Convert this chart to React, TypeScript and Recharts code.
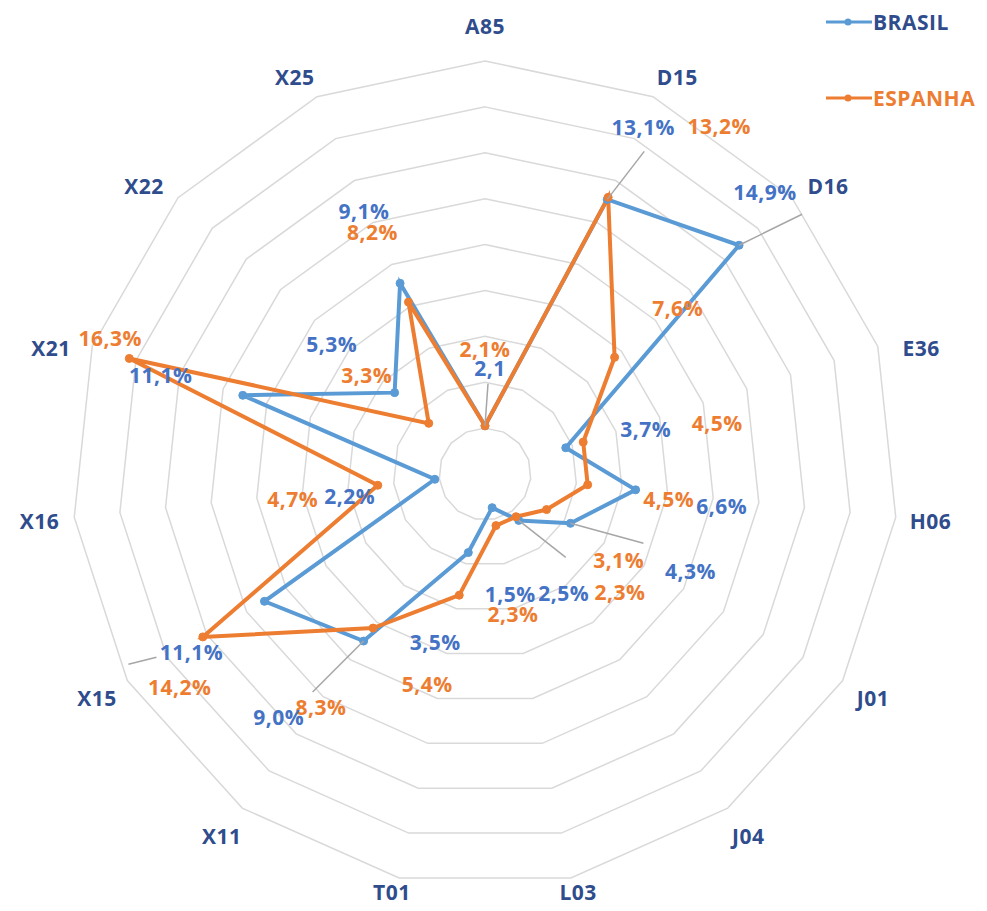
import React from 'react'
import {
  RadarChart, Radar, PolarGrid, PolarAngleAxis, PolarRadiusAxis, Legend,
} from 'recharts'

const categories = ['A85', 'D15', 'D16', 'E36', 'H06', 'J01', 'J04', 'L03', 'T01', 'X11', 'X15', 'X16', 'X21', 'X22', 'X25']
const brasil = [2.1, 13.1, 14.9, 3.7, 6.6, 4.3, 2.5, 1.5, 3.5, 9.0, 11.1, 2.2, 11.1, 5.3, 9.1]
const espanha = [2.1, 13.2, 7.6, 4.5, 4.5, 3.1, 2.3, 2.3, 5.4, 8.3, 14.2, 4.7, 16.3, 3.3, 8.2]

const data = categories.map((cat, i) => ({ cat, BRASIL: brasil[i], ESPANHA: espanha[i] }))

// where each data label sits, relative to its point (excel had them dragged around by hand)
const brasilLabelPos = [[5, -58], [36, -72], [26, -53], [80, -19], [86, 16], [120, 48], [45, 73], [18, 86], [-33, 89], [-85, 76], [-73, 51], [-85, 17], [-82, -20], [-63, -49], [-36, -72]]
const espanhaLabelPos = [[0, -77], [111, -71], [63, -49], [134, -19], [81, 14], [72, 50], [104, 75], [17, 88], [-32, 89], [-52, 79], [-23, 50], [-85, 14], [-19, -20], [-62, -48], [-36, -70]]
// leader lines: index -> [startDx, startDy, endDx, endDy] relative to the marker
const brasilLeaders: Record<number, number[]> = {
  0: [0, 0, 3, -42],
  1: [0, 0, 37, -48],
  2: [0, 0, 63, -31],
  5: [0, 0, 73, 20],
  6: [0, 0, 47, 37],
  9: [0, 0, -51, 51],
  10: [-108, 56, -136, 63],
}

const BLUE = '#5B9BD5'
const ORANGE = '#ED7D31'
const BLUE_TEXT = '#4472C4'
const NAVY = '#2F4C8C'
const FONT = '"Open Sans", Arial, sans-serif'
const CX = 477

const fmt = (v: number, pct: boolean) => v.toFixed(1).replace('.', ',') + (pct ? '%' : '')

function makeLabel(pos: number[][], color: string, leaders: Record<number, number[]>, noPct: number[]) {
  return (props: any) => {
    const x = props.x ?? props.viewBox?.x
    const y = props.y ?? props.viewBox?.y
    const i = props.index
    if (x == null || y == null || i == null) return null
    const [dx, dy] = pos[i]
    const lead = leaders[i]
    return (
      <g>
        {lead && (
          <line x1={x + lead[0]} y1={y + lead[1]} x2={x + lead[2]} y2={y + lead[3]} stroke="#A6A6A6" strokeWidth={1.5} />
        )}
        <text
          x={x + dx}
          y={y + dy}
          textAnchor="middle"
          dominantBaseline="central"
          fill={color}
          fontFamily={FONT}
          fontWeight={700}
          fontSize={21}
          letterSpacing={0.5}
        >
          {fmt(Number(props.value), !noPct.includes(i))}
        </text>
      </g>
    )
  }
}

const makeDot = (color: string) => (props: any) => (
  <circle key={props.index} cx={props.cx} cy={props.cy} r={4} fill={color} stroke={color} strokeWidth={1} />
)

// excel's category labels sit a bit lower/wider on the upper diagonals, and tighter at the bottom
const CatTick = (props: any) => {
  let { x, y } = props
  if (y > 40 && y < 400) {
    y += 12
    x += x > CX ? 10 : -8
  }
  y = Math.min(y, 884)
  return (
    <text
      x={x}
      y={y}
      textAnchor="middle"
      dominantBaseline="central"
      fill={NAVY}
      fontFamily={FONT}
      fontWeight={700}
      fontSize={21}
      letterSpacing={0.5}
    >
      {props.payload.value}
    </text>
  )
}

const legendItems = [
  { name: 'BRASIL', color: BLUE, text: NAVY },
  { name: 'ESPANHA', color: ORANGE, text: ORANGE },
]

const LegendBox = () => (
  <div>
    {legendItems.map(item => (
      <div key={item.name} style={{ display: 'flex', alignItems: 'center', height: 28, marginBottom: 48 }}>
        <svg width={46} height={12} style={{ marginRight: 1 }}>
          <line x1={0} y1={6} x2={46} y2={6} stroke={item.color} strokeWidth={3} />
          <circle cx={22} cy={6} r={3.5} fill={item.color} />
        </svg>
        <span style={{ color: item.text, fontFamily: FONT, fontWeight: 700, fontSize: 21, letterSpacing: 0.5 }}>
          {item.name}
        </span>
      </div>
    ))}
  </div>
)

export default function App() {
  return (
    <div style={{ width: 971, height: 895 }}>
      <RadarChart
        width={971}
        height={903}
        data={data}
        cx={CX}
        cy={466}
        outerRadius={413}
        margin={{ top: 0, right: 0, bottom: 0, left: 0 }}
      >
        <PolarGrid gridType="polygon" radialLines={false} stroke="#D9D9D9" strokeWidth={1.5} />
        <PolarAngleAxis dataKey="cat" tickLine={false} axisLine={false} tickSize={35} tick={CatTick} />
        <PolarRadiusAxis domain={[0, 18]} tickCount={10} tick={false} axisLine={false} />
        <Radar
          dataKey="BRASIL"
          stroke={BLUE}
          strokeWidth={4}
          fill="none"
          fillOpacity={0}
          dot={makeDot(BLUE)}
          isAnimationActive={false}
        />
        <Radar
          dataKey="ESPANHA"
          stroke={ORANGE}
          strokeWidth={4}
          fill="none"
          fillOpacity={0}
          dot={makeDot(ORANGE)}
          isAnimationActive={false}
        />
        {/* label-only passes so the text sits above both lines */}
        <Radar
          dataKey="ESPANHA"
          stroke="none"
          fill="none"
          dot={false}
          legendType="none"
          label={makeLabel(espanhaLabelPos, ORANGE, {}, [])}
          isAnimationActive={false}
        />
        <Radar
          dataKey="BRASIL"
          stroke="none"
          fill="none"
          dot={false}
          legendType="none"
          label={makeLabel(brasilLabelPos, BLUE_TEXT, brasilLeaders, [0])}
          isAnimationActive={false}
        />
        <Legend
          layout="vertical"
          verticalAlign="top"
          align="right"
          wrapperStyle={{ top: 0, left: 818, width: 160 }}
          content={() => <LegendBox />}
        />
      </RadarChart>
    </div>
  )
}
